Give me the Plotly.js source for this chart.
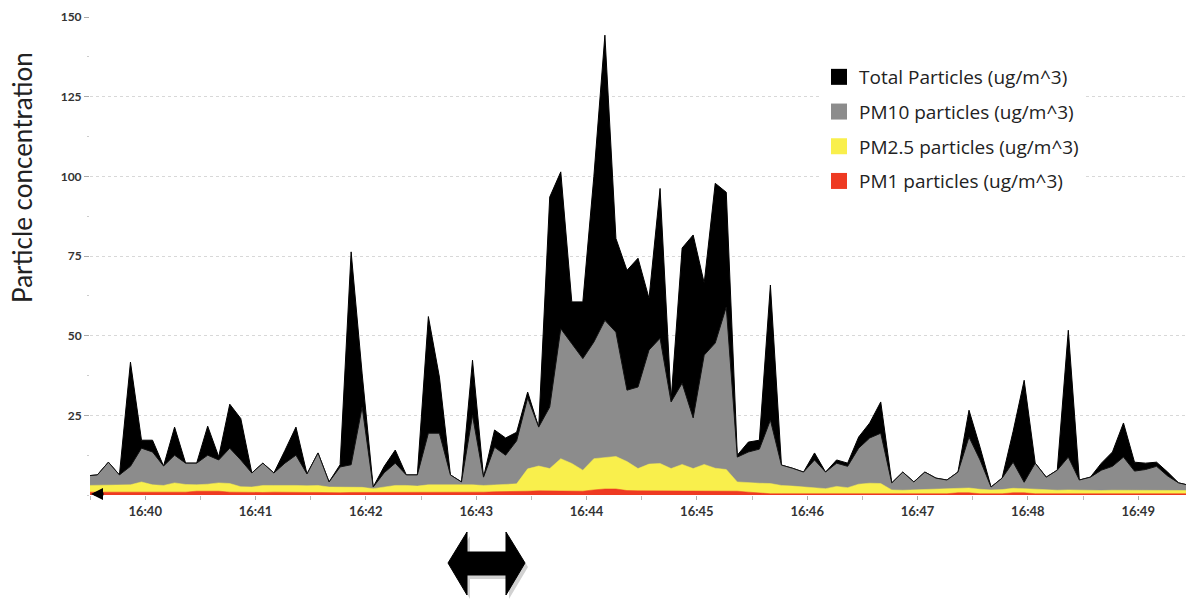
<!DOCTYPE html>
<html>
<head>
<meta charset="utf-8">
<script src="https://cdn.plot.ly/plotly-3.0.1.min.js"></script>
<style>html,body{margin:0;padding:0;background:#fff;}#chart{width:1186px;height:601px;}</style>
</head>
<body>
<div id="chart"></div>
<script>
// Sample times (6 s interval)
const times = [
 "16:39:28","16:39:34","16:39:40","16:39:46","16:39:52","16:39:58",
 "16:40:04","16:40:10","16:40:16","16:40:22","16:40:28","16:40:34","16:40:40","16:40:46","16:40:52","16:40:58",
 "16:41:04","16:41:10","16:41:16","16:41:22","16:41:28","16:41:34","16:41:40","16:41:46","16:41:52","16:41:58",
 "16:42:04","16:42:10","16:42:16","16:42:22","16:42:28","16:42:34","16:42:40","16:42:46","16:42:52","16:42:58",
 "16:43:04","16:43:10","16:43:16","16:43:22","16:43:28","16:43:34","16:43:40","16:43:46","16:43:52","16:43:58",
 "16:44:04","16:44:10","16:44:16","16:44:22","16:44:28","16:44:34","16:44:40","16:44:46","16:44:52","16:44:58",
 "16:45:04","16:45:10","16:45:16","16:45:22","16:45:28","16:45:34","16:45:40","16:45:46","16:45:52","16:45:58",
 "16:46:04","16:46:10","16:46:16","16:46:22","16:46:28","16:46:34","16:46:40","16:46:46","16:46:52","16:46:58",
 "16:47:04","16:47:10","16:47:16","16:47:22","16:47:28","16:47:34","16:47:40","16:47:46","16:47:52","16:47:58",
 "16:48:04","16:48:10","16:48:16","16:48:22","16:48:28","16:48:34","16:48:40","16:48:46","16:48:52","16:48:58",
 "16:49:04","16:49:10","16:49:16","16:49:22","16:49:28"
];
const totalParticles = [
 6,6.3,10.3,6.3,41.7,17.2,
 17.2,9.1,21.3,10,10,21.6,12,28.5,24,6.9,
 10,6.9,14,21.3,6.6,13.2,4.1,9.5,76.3,38,
 2.5,9,14.1,6.3,6.3,56,37,6.3,4.1,42.3,
 5.6,20.4,17.9,19.7,32.3,21.3,93.5,101.4,60.6,60.6,
 100,144.3,80.5,70.5,74.3,61.7,96.2,29.8,77.5,81.6,
 66.5,97.8,95,12.5,16.6,17.2,65.9,9.4,8.4,7.2,
 13.2,7.2,11,10,18.2,22.6,29.2,3.8,7.2,4.1,
 7.2,5.3,4.7,7.2,26.6,15,2.5,5.3,20,36,
 10,5.6,7.8,51.7,4.7,5.6,10,13.5,22.6,10.3,
 10,10.3,7.2,3.8,3
];
const pm10 = [
 6,6.3,10.3,6.3,9,14.7,
 13.5,9.1,12.5,10,10,12.5,11,14.7,11,6.9,
 10,6.9,10,12.5,6.6,13.2,4.1,8.8,9.5,27.6,
 2.5,7,10,6.3,6.3,19.4,19.4,6.3,4.1,25,
 5.6,15,12.5,17,30.5,21.3,27.6,52.2,47.5,42.8,
 48,54.8,51.1,32.9,33.9,45.5,49.2,29.2,35.1,24.2,
 43.9,47.7,59,11.9,13.5,14.4,23.5,9.4,8.4,7.2,
 11,7.2,10,9,14.7,17.9,19.4,3.8,7.2,4.1,
 7.2,5.3,4.7,7.2,18.2,11,2.5,5.3,10.3,4,
 10,5.6,7.8,11.9,4.7,5.6,7.8,9,11.9,7.5,
 8,9,6,3.8,3
];
const pm25 = [
 3,3,3,3,3.2,4.1,
 3.2,3,3.8,3.3,3.2,3.4,3.8,3.6,2.6,2.5,
 3,3,3.1,3,2.9,3,2.5,2.5,2.6,2.4,
 2,2.4,3,3,2.8,3.2,3.2,3.3,3.1,3.2,
 3,3.1,3.2,3.5,8.2,9.1,8.3,11.4,9.9,7.8,
 11.4,11.8,12.1,10.5,8.3,9.7,9.9,8.3,9.6,8.3,
 9.6,8.4,8,4.1,3.8,3.7,3.6,3,2.8,2.5,
 2.3,2,2.7,2.3,3.4,3.7,3.6,1.6,1.5,1.6,
 1.6,1.7,1.8,2,2.2,1.8,1.6,1.7,2.1,2,
 1.8,1.6,1.5,1.6,1.5,1.4,1.4,1.5,1.5,1.4,
 1.5,1.5,1.4,1.4,1.4
];
const pm1 = [
 0.9,0.9,0.9,0.9,1.1,1.1,
 1,1.1,1.1,0.9,1.2,1.2,1.2,0.9,0.8,0.8,
 0.8,0.9,0.8,0.8,0.8,0.8,0.7,0.7,0.8,0.8,
 0.7,0.8,0.8,0.8,0.8,0.9,0.9,0.9,0.8,0.9,
 0.9,1,1,1.1,1.2,1.3,1.3,1.3,1.3,1.2,
 1.6,1.9,1.9,1.4,1.3,1.3,1.4,1.3,1.3,1.3,
 1.3,1.3,1.4,1.2,0.9,0.6,0.4,0.4,0.4,0.4,
 0.4,0.4,0.4,0.4,0.4,0.4,0.4,0.4,0.4,0.4,
 0.4,0.4,0.4,0.7,0.7,0.4,0.4,0.4,0.7,0.7,
 0.4,0.4,0.4,0.4,0.4,0.4,0.4,0.4,0.4,0.4,
 0.4,0.4,0.4,0.4,0.4
];
const seriesNames = ["Total Particles (ug/m^3)","PM10 particles (ug/m^3)","PM2.5 particles (ug/m^3)","PM1 particles (ug/m^3)"];
const seriesColors = ["#000000","#8c8c8c","#f9ef4c","#ee3a22"];
const yTicks = [25,50,75,100,125,150];

const DAY = "2020-01-01 ";
const x = times.map(t => DAY + t);
const values = [totalParticles, pm10, pm25, pm1];
const lineColors = ["#000000","#111111",seriesColors[2],seriesColors[3]];
const lineWidths = [1,1,0.5,0.5];

const traces = values.map((v,i) => ({
  type:"scatter", mode:"lines", x:x, y:v, name:seriesNames[i],
  fill:"tozeroy", fillcolor:seriesColors[i],
  line:{color:lineColors[i], width:lineWidths[i], shape:"linear"},
  showlegend:false, hoverinfo:"x+y+name"
}));
const legendTraces = seriesNames.map((n,i) => ({
  type:"scatter", mode:"markers", x:[null], y:[null], name:n,
  legendgroup:"g"+i,
  marker:{symbol:"square", size:16, color:seriesColors[i]},
  showlegend:true, hoverinfo:"skip"
}));

// pixel -> paper helpers (plot area: x 90..1186, y 17..495)
const L=90, R=0, T=17, B=106, W=1186, H=601;
const pw=W-L-R, ph=H-T-B;
const PX = v => (v-L)/pw;
const PY = v => (H-B-v)/ph;
function arrowPath(dx,dy){
  const pts=[[448,563],[467,532],[467,552],[506,552],[506,532],[525,563],[506,595],[506,575],[467,575],[467,595]];
  return "M"+pts.map(p=>PX(p[0]+dx).toFixed(5)+","+PY(p[1]+dy).toFixed(5)).join(" L")+" Z";
}

const layout = {
  width:W, height:H,
  margin:{l:L, r:R, t:T, b:B, pad:0},
  paper_bgcolor:"#ffffff", plot_bgcolor:"#ffffff",
  font:{family:"Lato, 'Open Sans', sans-serif", color:"#222"},
  showlegend:true,
  legend:{x:PX(819), y:PY(58), xanchor:"left", yanchor:"top", bgcolor:"#ffffff",
          font:{size:19, family:"'Open Sans', sans-serif", color:"#222"},
          tracegroupgap:7, itemwidth:30, traceorder:"grouped"},
  xaxis:{type:"date", range:[DAY+"16:39:30", DAY+"16:49:26"],
         tick0:DAY+"16:40:00", dtick:60000, tickformat:"%H:%M",
         showgrid:false, zeroline:false, showline:false,
         ticks:"outside", ticklen:4, tickcolor:"#aaa", tickwidth:1,
         tickfont:{size:13, family:"Lato, sans-serif", weight:"bold", color:"#333"},
         minor:{dtick:30000, tick0:DAY+"16:40:00", ticks:"outside", ticklen:4, tickcolor:"#bbb", showgrid:false},
         fixedrange:true},
  yaxis:{range:[0,150], tickmode:"array", tickvals:yTicks, ticktext:yTicks.map(String),
         showgrid:true, gridcolor:"#d8d8d8", griddash:"dot", gridwidth:1,
         zeroline:false, showline:false,
         ticks:"outside", ticklen:5, tickcolor:"#aaa", tickwidth:1,
         tickfont:{size:12, family:"Lato, sans-serif", weight:"bold", color:"#333"},
         minor:{tick0:0, dtick:12.5, ticks:"outside", ticklen:2, tickcolor:"#ccc", showgrid:false},
         fixedrange:true},
  annotations:[
    {text:"Particle concentration", xref:"paper", yref:"paper", x:PX(22), y:PY(178),
     textangle:-90, showarrow:false, xanchor:"center", yanchor:"middle",
     font:{size:26, family:"Lato, sans-serif", color:"#222"}},
    {text:"", xref:"paper", yref:"paper", x:PX(91), y:PY(494), ax:14, ay:0,
     showarrow:true, arrowhead:2, arrowsize:0.8, arrowwidth:3, arrowcolor:"#000"}
  ],
  shapes:[
    {type:"path", xref:"paper", yref:"paper", path:arrowPath(3,4), fillcolor:"rgba(0,0,0,0.18)", line:{width:0}},
    {type:"path", xref:"paper", yref:"paper", path:arrowPath(0,0), fillcolor:"#000", line:{color:"#000", width:1}}
  ]
};

Plotly.newPlot("chart", traces.concat(legendTraces), layout, {displayModeBar:false, staticPlot:true});
</script>
</body>
</html>
